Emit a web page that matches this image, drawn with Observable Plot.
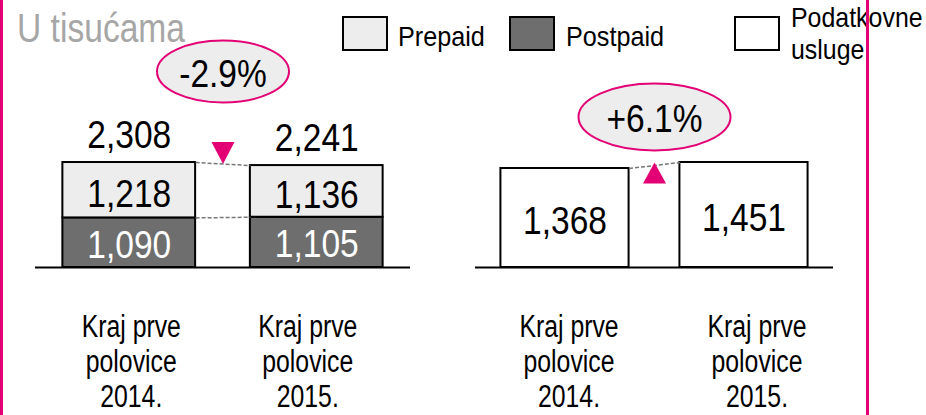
<!DOCTYPE html>
<html><head><meta charset="utf-8">
<script src="https://cdn.jsdelivr.net/npm/d3@7"></script>
<script src="https://cdn.jsdelivr.net/npm/@observablehq/plot@0.6"></script>
<style>
body{margin:0;background:#fff;}
#wrap{position:relative;width:926px;height:415px;overflow:hidden;font-family:"Liberation Sans",Arial,sans-serif;}
.abs{position:absolute;white-space:pre;transform-origin:0 0;}
.box{position:absolute;box-sizing:border-box;border:2px solid #000;}
.vline{position:absolute;top:0;height:415px;width:3px;background:#e20074;z-index:5;}
</style></head><body><div id="wrap"></div>
<script>
// ---- data ----
const periods = ["Kraj prve\npolovice\n2014.", "Kraj prve\npolovice\n2015."];
const prepaid = [1218, 1136];
const postpaid = [1090, 1105];
const totals = [2308, 2241];
const dataServices = [1368, 1451];
const changes = ["-2.9%", "+6.1%"];
const legendLabels = ["Prepaid", "Postpaid", "Podatkovne\nusluge"];
const unitLabel = "U tisućama";

// ---- styles ----
const FONT = '"Liberation Sans",Arial,sans-serif';
const MAGENTA = "#e20074";
const PREPAID_FILL = "#ededed";
const POSTPAID_FILL = "#6e6e6e";
const fmt = d3.format(",");
const idx = [0, 1];

function ellipseSymbol(rx, ry) {
  const k = 0.5523;
  return {draw(c) {
    c.moveTo(-rx, 0);
    c.bezierCurveTo(-rx, -ry * k, -rx * k, -ry, 0, -ry);
    c.bezierCurveTo(rx * k, -ry, rx, -ry * k, rx, 0);
    c.bezierCurveTo(rx, ry * k, rx * k, ry, 0, ry);
    c.bezierCurveTo(-rx * k, ry, -rx, ry * k, -rx, 0);
    c.closePath();
  }};
}
function triangleSymbol(w, h, down) {
  return {draw(c) {
    if (down) { c.moveTo(-w / 2, -h); c.lineTo(w / 2, -h); c.lineTo(0, 0); }
    else { c.moveTo(0, 0); c.lineTo(w / 2, h); c.lineTo(-w / 2, h); }
    c.closePath();
  }};
}
// horizontally condense text glyphs (the original uses a narrow grotesk)
function condense(svg) {
  svg.querySelectorAll("text").forEach(t => {
    const fs = parseFloat(getComputedStyle(t).fontSize);
    const k = fs < 34 ? 0.8 : 0.86;
    const tr = t.getAttribute("transform");
    if (tr) {
      t.setAttribute("transform", tr + ` scale(${k},1)`);
    } else {
      const x = +t.getAttribute("x") || 0, y = +t.getAttribute("y") || 0;
      t.removeAttribute("x"); t.removeAttribute("y");
      t.querySelectorAll("tspan").forEach(s => { if (s.hasAttribute("x")) s.setAttribute("x", (+s.getAttribute("x") - x) / k); });
      t.setAttribute("transform", `translate(${x},${y}) scale(${k},1)`);
    }
  });
}
const axisOpts = {tickFormat: i => periods[i], tickSize: 0, tickPadding: 45, fontSize: 31, lineHeight: 1.13, fill: "#000"};

const wrap = document.getElementById("wrap");

// ---- left panel: Prepaid / Postpaid ----
const hwL = 0.354;
const left = Plot.plot({
  width: 463, height: 415,
  marginTop: 0, marginBottom: 148, marginLeft: 35, marginRight: 53,
  x: {domain: [-0.5, 1.5]},
  y: {domain: [0, 5870], axis: null},
  style: {fontFamily: FONT, background: "transparent", overflow: "visible"},
  marks: [
    Plot.rect(idx, {x1: i => i - hwL, x2: i => i + hwL, y1: 0, y2: i => postpaid[i], fill: POSTPAID_FILL, stroke: "#000", strokeWidth: 2}),
    Plot.rect(idx, {x1: i => i - hwL, x2: i => i + hwL, y1: i => postpaid[i], y2: i => totals[i], fill: PREPAID_FILL, stroke: "#000", strokeWidth: 2}),
    Plot.link([0], {x1: hwL, x2: 1 - hwL, y1: () => totals[0], y2: () => totals[1], stroke: "#777", strokeWidth: 1.5, strokeDasharray: "4 2"}),
    Plot.link([0], {x1: hwL, x2: 1 - hwL, y1: () => postpaid[0], y2: () => postpaid[1], stroke: "#777", strokeWidth: 1.5, strokeDasharray: "4 2"}),
    Plot.ruleY([0], {stroke: "#000", strokeWidth: 2}),
    Plot.text(idx, {x: i => i, y: i => totals[i], text: i => fmt(totals[i]), dy: -27.5, fontSize: 39, fill: "#000"}),
    Plot.text(idx, {x: i => i, y: i => (postpaid[i] + totals[i]) / 2, text: i => fmt(prepaid[i]), dy: 4.5, fontSize: 39, fill: "#000"}),
    Plot.text(idx, {x: i => i, y: i => postpaid[i] / 2, text: i => fmt(postpaid[i]), dy: 2.5, fontSize: 39, fill: "#fff"}),
    Plot.dot([0], {x: 0.5, y: () => totals[1], symbol: triangleSymbol(23, 22, true), fill: MAGENTA, stroke: "none", dy: -1.5}),
    Plot.dot([0], {x: 0.5, y: () => d3.max(totals), symbol: ellipseSymbol(66, 31), fill: PREPAID_FILL, stroke: MAGENTA, strokeWidth: 2, dy: -91}),
    Plot.text([changes[0]], {x: 0.5, y: () => d3.max(totals), text: d => d, dy: -88, fontSize: 39, fill: "#000"}),
    Plot.axisX([0], {...axisOpts, dx: 2}),
    Plot.axisX([1], {...axisOpts, dx: -9})
  ]
});
left.style.position = "absolute"; left.style.left = "0px"; left.style.top = "0px";
wrap.appendChild(left);
condense(left);

// ---- right panel: Podatkovne usluge ----
const hwR = 0.358;
const right = Plot.plot({
  width: 463, height: 415,
  marginTop: 0, marginBottom: 148, marginLeft: 12, marginRight: 93,
  x: {domain: [-0.5, 1.5]},
  y: {domain: [0, 3690], axis: null},
  style: {fontFamily: FONT, background: "transparent", overflow: "visible"},
  marks: [
    Plot.rect(idx, {x1: i => i - hwR, x2: i => i + hwR, y1: 0, y2: i => dataServices[i], fill: "#fff", stroke: "#000", strokeWidth: 2}),
    Plot.link([0], {x1: hwR, x2: 1 - hwR, y1: () => dataServices[0], y2: () => dataServices[1], stroke: "#777", strokeWidth: 1.5, strokeDasharray: "4 2"}),
    Plot.ruleY([0], {stroke: "#000", strokeWidth: 2}),
    Plot.text(idx, {x: i => i, y: i => dataServices[i] / 2, text: i => fmt(dataServices[i]), dy: 3.5, fontSize: 39, fill: "#000"}),
    Plot.dot([0], {x: 0.5, y: () => dataServices[1], symbol: triangleSymbol(23, 21, false), fill: MAGENTA, stroke: "none"}),
    Plot.dot([0], {x: 0.5, y: () => d3.max(dataServices), symbol: ellipseSymbol(76, 33.5), fill: PREPAID_FILL, stroke: MAGENTA, strokeWidth: 2, dy: -45.5}),
    Plot.text([changes[1]], {x: 0.5, y: () => d3.max(dataServices), text: d => d, dy: -42.5, fontSize: 39, fill: "#000"}),
    Plot.axisX([0], {...axisOpts, dx: 4}),
    Plot.axisX([1], {...axisOpts, dx: 13})
  ]
});
right.style.position = "absolute"; right.style.left = "463px"; right.style.top = "0px";
wrap.appendChild(right);
condense(right);

// ---- title, legend, frame lines ----
function addText(txt, x, baseline, fs, color, k, lh) {
  const d = document.createElement("div");
  d.className = "abs";
  d.textContent = txt;
  d.style.left = x + "px";
  d.style.fontSize = fs + "px";
  const l = lh || fs;
  d.style.lineHeight = l + "px";
  d.style.color = color;
  d.style.transform = `scaleX(${k})`;
  d.style.top = (baseline - (0.5 * (l - 1.117 * fs) + 0.905 * fs)) + "px";
  wrap.appendChild(d);
}
function addBox(x, y, w, h, fill) {
  const b = document.createElement("div");
  b.className = "box";
  Object.assign(b.style, {left: x + "px", top: y + "px", width: w + "px", height: h + "px", background: fill});
  wrap.appendChild(b);
}
addText(unitLabel, 17, 42, 40, "#a6a6a6", 0.84);
addBox(342, 16, 46, 35, PREPAID_FILL);
addText(legendLabels[0], 398, 47, 28, "#000", 0.9);
addBox(509, 16, 46, 35, POSTPAID_FILL);
addText(legendLabels[1], 566, 47, 28, "#000", 0.9);
addBox(734, 16, 46, 35, "#fff");
addText(legendLabels[2], 791, 28, 28, "#000", 0.89, 32);

const v1 = document.createElement("div"); v1.className = "vline"; v1.style.left = "0px"; wrap.appendChild(v1);
const v2 = document.createElement("div"); v2.className = "vline"; v2.style.left = "866px"; wrap.appendChild(v2);
</script>
</body></html>
